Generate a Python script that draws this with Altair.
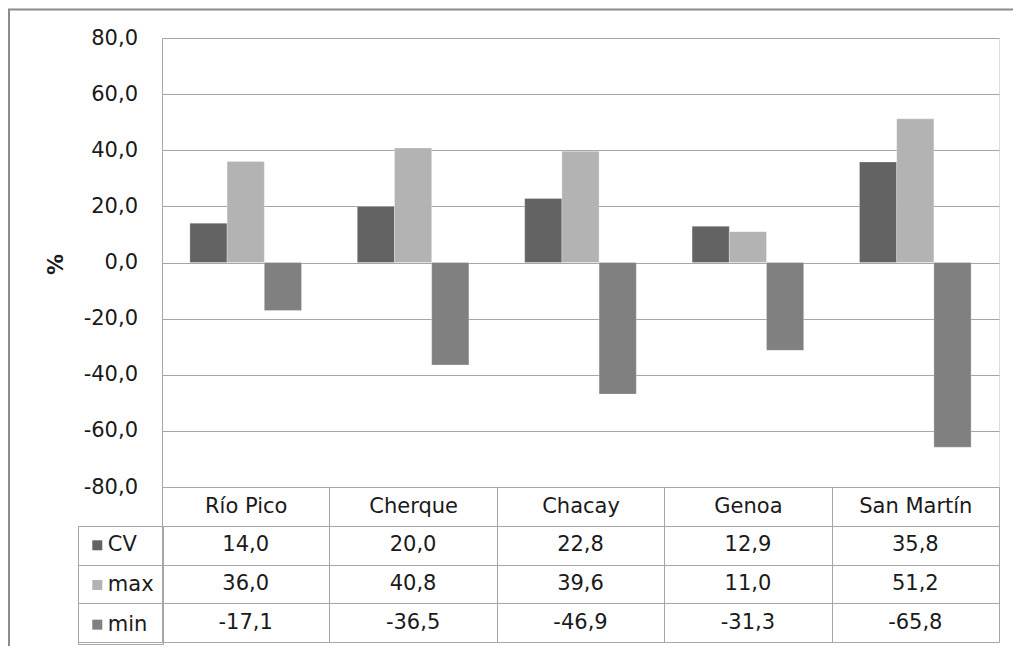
import altair as alt
import pandas as pd

categories = ["Río Pico", "Cherque", "Chacay", "Genoa", "San Martín"]
series = ["CV", "max", "min"]
cv_vals = [14.0, 20.0, 22.8, 12.9, 35.8]
max_vals = [36.0, 40.8, 39.6, 11.0, 51.2]
min_vals = [-17.1, -36.5, -46.9, -31.3, -65.8]
y_ticks = [-80, -60, -40, -20, 0, 20, 40, 60, 80]
colors = ["#636363", "#b3b3b3", "#808080"]

rows = []
for s, vals in zip(series, [cv_vals, max_vals, min_vals]):
    for c, v in zip(categories, vals):
        rows.append({"estacion": c, "serie": s, "valor": v,
                     "texto": f"{v:.1f}".replace(".", ",")})
df = pd.DataFrame(rows)

FONT = "DejaVu Sans"
FS = 21
GRID = "#a6a6a6"
TXT = "#1a1a1a"

x_enc = alt.X(
    "estacion:N", sort=categories,
    scale=alt.Scale(domain=categories, paddingInner=0, paddingOuter=0),
    axis=alt.Axis(title=None, orient="bottom", domain=True, domainColor=GRID,
                  ticks=True, tickBand="extent", tickSize=155, tickColor=GRID,
                  labelAngle=0, labelFont=FONT, labelFontSize=FS, labelColor=TXT,
                  labelBaseline="middle", labelPadding=-135.5, grid=False),
)

bars = alt.Chart(df).mark_bar(stroke="#ffffff", strokeOpacity=0.25, strokeWidth=1).encode(
    x=x_enc,
    xOffset=alt.XOffset("serie:N", sort=series,
                        scale=alt.Scale(domain=series, paddingInner=0, paddingOuter=0.75)),
    y=alt.Y("valor:Q",
            scale=alt.Scale(domain=[-80, 80], nice=False, zero=False),
            axis=alt.Axis(values=y_ticks,
                          labelExpr="(datum.value < 0 ? '-' : '') + replace(format(abs(datum.value), '.1f'), '.', ',')",
                          title="%", titleFont=FONT, titleFontSize=FS, titleFontWeight="bold",
                          titleColor=TXT, titleX=-106, titleY=226, titleAlign="center",
                          titleBaseline="middle",
                          domain=True, domainColor=GRID, ticks=False, labelPadding=24.5,
                          labelFont=FONT, labelFontSize=FS, labelColor=TXT,
                          grid=True, gridColor=GRID, orient="left")),
    color=alt.Color("serie:N", sort=series,
                    scale=alt.Scale(domain=series, range=colors),
                    legend=alt.Legend(title=None, orient="none", legendX=-84, legendY=488,
                                      direction="vertical", symbolType="square",
                                      symbolSize=100, symbolStrokeWidth=0,
                                      labelFont=FONT, labelFontSize=FS, labelColor=TXT,
                                      labelOffset=0, rowPadding=17.67, padding=8.8,
                                      gridAlign="all", strokeColor=GRID)),
)

table = alt.Chart(df).mark_text(font=FONT, fontSize=FS, color=TXT,
                                baseline="middle", align="center").encode(
    x=x_enc,
    y=alt.Y("serie:N", sort=series,
            scale=alt.Scale(domain=series, range=[488, 604], paddingInner=0, paddingOuter=0),
            axis=alt.Axis(title=None, orient="left", labels=False, domain=True,
                          domainColor=GRID, ticks=True, tickBand="extent", tickSize=84,
                          tickColor=GRID, grid=True, gridColor=GRID)),
    text="texto:N",
)

frame_df = pd.DataFrame({"k": [0]})
frame_top = alt.Chart(frame_df).mark_rule(color="#8c8c8c", strokeWidth=2).encode(
    x=alt.value(-154), x2=alt.value(851), y=alt.value(-28.5))
frame_left = alt.Chart(frame_df).mark_rule(color="#8c8c8c", strokeWidth=2).encode(
    x=alt.value(-153), y=alt.value(-28.5), y2=alt.value(620))

chart = alt.layer(bars, table, frame_top, frame_left).resolve_scale(
    y="independent"
).properties(
    width=837, height=449,
    autosize=alt.AutoSizeParams(type="none"),
    padding={"left": 154, "top": 30, "right": 14, "bottom": 159},
).configure_view(strokeWidth=0).configure(background="white")

chart.save("out.html", embed_options={"renderer": "svg", "actions": False})
